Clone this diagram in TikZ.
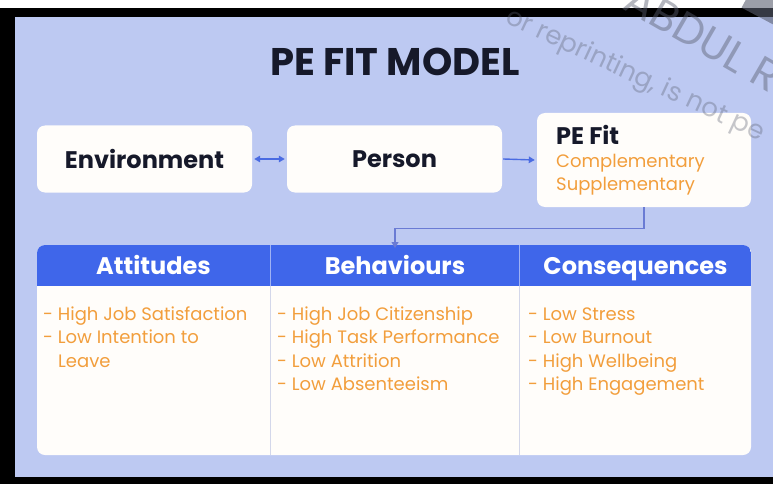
\documentclass[tikz,border=0pt]{standalone}
\usepackage{fontspec}
\setmainfont{Poppins}
\usetikzlibrary{arrows.meta}
\definecolor{pagebg}{HTML}{BDC9F2}
\definecolor{cardbg}{HTML}{FFFDFA}
\definecolor{headblue}{HTML}{3F66EA}
\definecolor{itemorange}{HTML}{F29E3C}
\definecolor{inkdark}{HTML}{16192A}
\definecolor{linkblue}{HTML}{4A6BE2}
\definecolor{elbowblue}{HTML}{6A7BD4}
\definecolor{rulegrey}{HTML}{D3D7EA}
\definecolor{markgrey}{HTML}{5A5F70}
\newcommand{\fsz}[1]{\fontsize{#1}{#1}\selectfont}
\tikzset{
  linktip/.tip={Triangle[length=6pt,width=6.5pt]},
  card/.style={fill=cardbg, rounded corners=8pt, inner sep=0pt},
  boxlabel/.style={font=\fsz{24}\bfseries, text=inkdark},
  headtxt/.style={font=\fsz{24}\bfseries, text=white, inner sep=0pt, anchor=base},
  item/.style={font=\fsz{18}, text=itemorange, anchor=base west, inner sep=0pt},
  link/.style={draw=linkblue, line width=1.4pt},
  elbow/.style={draw=elbowblue, line width=1.1pt, -{Triangle[length=6pt,width=7pt]}},
  wmark/.style={text=markgrey, opacity=0.35, inner sep=0pt, anchor=base west},
}
\begin{document}
\begin{tikzpicture}[x=1pt,y=-1pt]
\useasboundingbox (0,0) rectangle (773,484);
% page: white strip, black frame, lavender panel
\fill[white] (0,0) rectangle (773,484);
\fill[black] (0,8) rectangle (773,484);
\fill[pagebg] (15,17) rectangle (773,477);

% title
\node[font=\fsz{38.5}\bfseries, text=inkdark, inner sep=0pt] (title) at (395,62) {PE FIT MODEL};

% top row of cards
\node[card, minimum width=215pt, minimum height=67pt, boxlabel] (env) at (144.5,159) {Environment};
\node[card, minimum width=215pt, minimum height=67pt, boxlabel] (person) at (394.5,159) {Person};
\node[card, minimum width=214pt, minimum height=94pt] (pefit) at (644,160) {};
\node[font=\fsz{24}\bfseries, text=inkdark, anchor=base west, inner sep=0pt] (pefitname) at (556,144) {PE Fit};
\node[item] (compl) at (556,167) {Complementary};
\node[item] (suppl) at (556,190) {Supplementary};

\draw[link, {linktip}-{linktip}] ([xshift=2pt]env.east) -- ([xshift=-2pt]person.west);
\draw[link, -{linktip}] ([xshift=1pt]person.east) -- ([xshift=-2pt]pefit.west);

% outcome table
\node[card, minimum width=714pt, minimum height=210pt] (table) at (394,350) {};
\begin{scope}
  \clip[rounded corners=8pt] (37,245) rectangle (751,455);
  \fill[headblue] (37,245) rectangle (751,286);
\end{scope}
\draw[rulegrey, line width=0.8pt] (270.5,286) -- (270.5,455);
\draw[rulegrey, line width=0.8pt] (519.5,286) -- (519.5,455);
\draw[white, opacity=0.5, line width=0.6pt] (270.5,245) -- (270.5,286);
\draw[white, opacity=0.5, line width=0.6pt] (519.5,245) -- (519.5,286);

\node[headtxt] (atth) at (153.5,274.5) {Attitudes};
\node[headtxt] (behh) at (395,274.5) {Behaviours};
\node[headtxt] (conh) at (635.5,274.5) {Consequences};
\coordinate (tabletop) at (395,245);

\draw[elbow] (pefit.south) -- ++(0,21) -| ([yshift=-3pt]tabletop);

% column items
\node[item] (a1) at (43,320) {- High Job Satisfaction};
\node[item] (a2) at (43,343.5) {- Low Intention to};
\node[item] (a3) at (58,367) {Leave};
\node[item] (b1) at (277,320) {- High Job Citizenship};
\node[item] (b2) at (277,343.5) {- High Task Performance};
\node[item] (b3) at (277,367) {- Low Attrition};
\node[item] (b4) at (277,390.5) {- Low Absenteeism};
\node[item] (c1) at (528,320) {- Low Stress};
\node[item] (c2) at (528,343.5) {- Low Burnout};
\node[item] (c3) at (528,367) {- High Wellbeing};
\node[item] (c4) at (528,390.5) {- High Engagement};

% overprinted notice
\begin{scope}
  \clip (0,0) rectangle (773,484);
  \node[wmark, font=\fsz{26}, rotate=-25] (notice) at (504,22) {or reprinting, is not pe};
  \node[wmark, font=\fsz{43}, rotate=-30, opacity=0.45] (stamp) at (621,8) {ABDUL\hspace{12pt}R};
  \fill[markgrey, opacity=0.6, rotate around={-28:(760,5)}] (745,-6) rectangle (800,16);
\end{scope}
\end{tikzpicture}
\end{document}
